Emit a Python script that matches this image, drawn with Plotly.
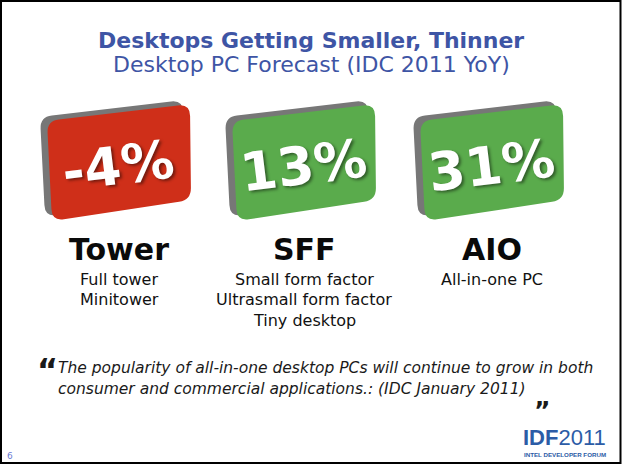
import numpy as np
import plotly.graph_objects as go

# ---------------- data ----------------
categories = ["Tower", "SFF", "AIO"]
growth_pct = [-4, 13, 31]
descriptions = [
    ["Full tower", "Minitower"],
    ["Small form factor", "Ultrasmall form factor", "Tiny desktop"],
    ["All-in-one PC"],
]
title_text = "Desktops Getting Smaller, Thinner"
subtitle_text = "Desktop PC Forecast (IDC 2011 YoY)"
quote_lines = [
    "The popularity of all-in-one desktop PCs will continue to grow in both",
    "consumer and commercial applications.: (IDC January 2011)",
]
page_number = "6"

# ---------------- layout constants ----------------
W, H = 622, 465
face_left = [47, 232, 420]
BLUE = "#3e55a5"
FONT = "DejaVu Sans"


def rounded_path(pts, r):
    pts = [np.array(p, dtype=float) for p in pts]
    n = len(pts)
    s = ""
    for i in range(n):
        p0, p1, p2 = pts[i - 1], pts[i], pts[(i + 1) % n]
        a = p1 + (p0 - p1) / np.linalg.norm(p0 - p1) * r
        b = p1 + (p2 - p1) / np.linalg.norm(p2 - p1) * r
        s += ("M" if i == 0 else "L") + f"{a[0]:.1f},{a[1]:.1f} "
        s += f"Q{p1[0]:.1f},{p1[1]:.1f} {b[0]:.1f},{b[1]:.1f} "
    return s + "Z"


def face_corners(xl, dx=0.0, dy=0.0):
    return [
        (xl + dx, 121 + dy),
        (xl + 143 + dx, 104 + dy),
        (xl + 144 + dx, 200 + dy),
        (xl + 5 + dx, 221 + dy),
    ]


fig = go.Figure()
# invisible trace to establish the axes
fig.add_trace(go.Scatter(x=[0, W], y=[0, H], mode="markers",
                         marker=dict(opacity=0), hoverinfo="skip", showlegend=False))

shapes = []
annotations = []

for i, (cat, val, desc) in enumerate(zip(categories, growth_pct, descriptions)):
    xl = face_left[i]
    face_col = "#cf2f19" if val < 0 else "#5aab4c"
    # grey side (extruded back)
    shapes.append(dict(type="path", path=rounded_path(face_corners(xl, -7, -4), 12),
                       fillcolor="#777777", line=dict(width=0), layer="above"))
    # face
    shapes.append(dict(type="path", path=rounded_path(face_corners(xl), 12),
                       fillcolor=face_col, line=dict(width=0), layer="above"))
    # value label
    label = f"{val}%"
    annotations.append(dict(
        x=xl + 71, y=165, text=f"<b>{label}</b>", showarrow=False,
        textangle=-7, xanchor="center", yanchor="middle",
        font=dict(family=FONT, size=53, color="white",
                  shadow="2px 2px 3px rgba(0,0,0,0.45)")))
    cx = xl + 72
    annotations.append(dict(
        x=cx, y=249, text=f"<b>{cat}</b>", showarrow=False,
        xanchor="center", yanchor="middle",
        font=dict(family=FONT, size=30, color="#0a0a0a")))
    for j, line in enumerate(desc):
        annotations.append(dict(
            x=cx, y=279 + 20.5 * j, text=line, showarrow=False,
            xanchor="center", yanchor="middle",
            font=dict(family=FONT, size=16, color="#111111")))

# title and subtitle
annotations.append(dict(x=W / 2, y=40, text=f"<b>{title_text}</b>", showarrow=False,
                        xanchor="center", yanchor="middle",
                        font=dict(family=FONT, size=22, color=BLUE)))
annotations.append(dict(x=W / 2, y=64, text=subtitle_text, showarrow=False,
                        xanchor="center", yanchor="middle",
                        font=dict(family=FONT, size=22, color=BLUE)))

# quote
for j, line in enumerate(quote_lines):
    annotations.append(dict(x=56, y=368 + 20.5 * j, text=line, showarrow=False,
                            xanchor="left", yanchor="middle",
                            font=dict(family=FONT, size=15.5, color="#1a1a1a",
                                      style="italic")))
annotations.append(dict(x=35, y=370, text="<b>\u201c</b>", showarrow=False,
                        xanchor="left", yanchor="middle",
                        font=dict(family=FONT, size=32, color="#1a1a1a")))
annotations.append(dict(x=532, y=410, text="<b>\u201d</b>", showarrow=False,
                        xanchor="left", yanchor="middle",
                        font=dict(family=FONT, size=25, color="#1a1a1a")))

# logo
LOGO_BLUE = "#2c5ca6"
annotations.append(dict(x=521, y=437, text="<b>IDF</b>2011", showarrow=False,
                        xanchor="left", yanchor="middle",
                        font=dict(family="Liberation Sans", size=22, color=LOGO_BLUE)))
annotations.append(dict(x=522, y=454, text="<b>INTEL DEVELOPER FORUM</b>", showarrow=False,
                        xanchor="left", yanchor="middle",
                        font=dict(family="Liberation Sans", size=6.2, color=LOGO_BLUE)))

# page number
annotations.append(dict(x=5, y=456, text=page_number, showarrow=False,
                        xanchor="left", yanchor="middle",
                        font=dict(family=FONT, size=9, color="#6b7cd4")))

# slide border
shapes.append(dict(type="rect", x0=1, y0=1, x1=620.5, y1=463, line=dict(color="black", width=2),
                   fillcolor="rgba(0,0,0,0)", layer="above"))

fig.update_layout(
    width=W, height=H,
    margin=dict(l=0, r=0, t=0, b=0),
    paper_bgcolor="white", plot_bgcolor="white",
    xaxis=dict(range=[0, W], visible=False, fixedrange=True),
    yaxis=dict(range=[H, 0], visible=False, fixedrange=True),
    shapes=shapes, annotations=annotations,
    showlegend=False,
)

fig.write_html("out.html", config=dict(displayModeBar=False),
               post_script="document.body.style.margin='0';document.body.style.overflow='hidden';")
